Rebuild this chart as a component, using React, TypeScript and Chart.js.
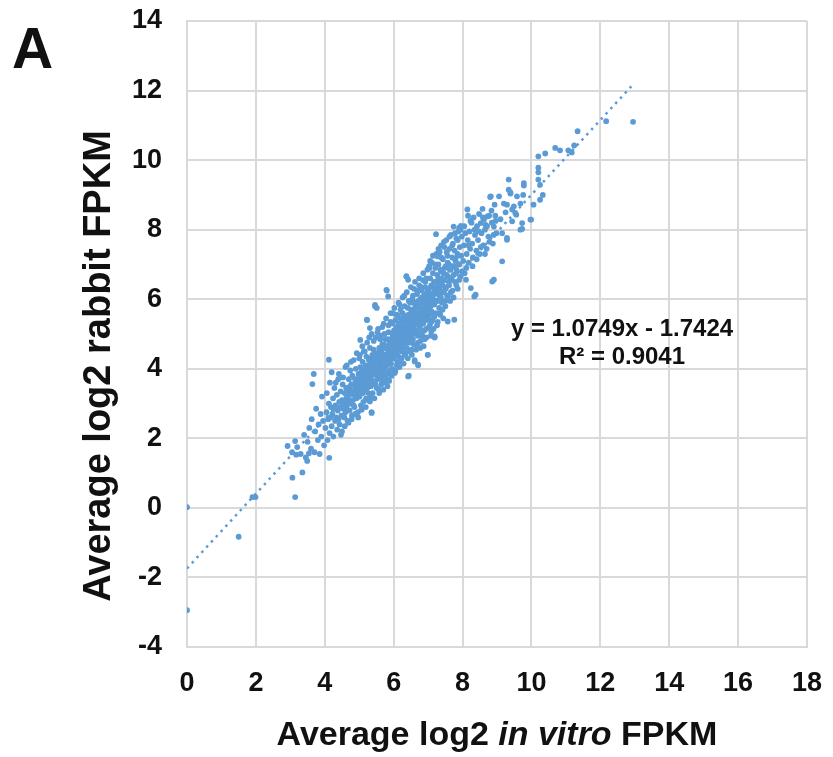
import React, { useEffect, useRef } from "react";
import { Chart, registerables } from "chart.js";
Chart.register(...registerables);

const X_MIN = 0, X_MAX = 18, Y_MIN = -4, Y_MAX = 14, TICK_STEP = 2;
const xAxisTitleParts = [
  { text: "Average log2 ", italic: false },
  { text: "in vitro", italic: true },
  { text: " FPKM", italic: false },
];
const yAxisTitle = "Average log2 rabbit FPKM";
const panelLabel = "A";
const equationLines = ["y = 1.0749x - 1.7424", "R\u00b2 = 0.9041"];

// trendline end points (x, y) as drawn in the picture
const trendX = [0, 12.9];
const trendY = [-1.74, 12.12];

// sparse points at the low end
const lowTailPoints = [
  [0, 0.02], [0, -2.94], [1.5, -0.83], [1.9, 0.31], [1.99, 0.31], [3.14, 0.31], [3.06, 0.87],
  [3.35, 1.02], [2.92, 1.78], [3.14, 1.92], [3.68, 3.85], [3.64, 3.56], [4.12, 4.26], [4.13, 1.44],
  [3.17, 1.53], [3.49, 1.35], [3.54, 1.57], [3.05, 1.6], [3.2, 1.75], [3.3, 1.55], [3.4, 2.1],
  [3.45, 1.45], [3.5, 1.9], [3.55, 2.3], [3.6, 1.7], [3.62, 2.55], [3.7, 1.6], [3.72, 2.2],
  [3.75, 2.85], [3.8, 1.95], [3.82, 2.4], [3.85, 1.55], [3.88, 2.7], [3.9, 2.05], [3.92, 3.2],
  [3.95, 2.5], [3.98, 1.8],
];

const band4to5 = [
  [4.02, 2.3], [4.05, 2.75], [4.06, 3.3], [4.08, 1.95], [4.1, 2.55], [4.12, 3.0], [4.14, 2.15],
  [4.15, 3.6], [4.17, 2.6], [4.18, 2.9], [4.2, 2.35], [4.2, 3.9], [4.22, 2.7], [4.24, 3.15],
  [4.25, 2.05], [4.27, 2.85], [4.28, 3.45], [4.3, 2.5], [4.31, 2.95], [4.33, 2.6], [4.35, 3.25],
  [4.36, 2.25], [4.38, 2.8], [4.39, 3.7], [4.4, 2.55], [4.42, 3.05], [4.43, 2.4], [4.45, 2.9],
  [4.46, 3.35], [4.48, 2.65], [4.5, 3.1], [4.5, 2.2], [4.52, 3.55], [4.54, 2.85], [4.55, 3.0],
  [4.57, 2.6], [4.58, 3.3], [4.6, 4.05], [4.6, 2.75], [4.62, 3.15], [4.63, 2.9], [4.65, 3.45],
  [4.66, 2.5], [4.68, 3.05], [4.7, 3.7], [4.71, 3.25], [4.72, 2.8], [4.74, 3.5], [4.75, 3.0],
  [4.76, 4.2], [4.78, 3.35], [4.79, 2.65], [4.8, 3.8], [4.82, 3.1], [4.83, 3.55], [4.85, 3.25],
  [4.86, 2.9], [4.88, 3.7], [4.89, 3.4], [4.9, 4.0], [4.92, 3.15], [4.93, 3.6], [4.95, 3.35],
  [4.96, 2.75], [4.98, 3.85], [4.99, 3.5], [5.0, 4.3],
];

const band5to6 = [
  [5.01, 3.2], [5.02, 3.65], [5.03, 4.05], [5.05, 3.45], [5.06, 3.9], [5.07, 2.85], [5.08, 3.55],
  [5.1, 4.2], [5.1, 3.75], [5.11, 3.3], [5.13, 4.5], [5.14, 3.6], [5.15, 3.95], [5.16, 3.4],
  [5.18, 4.1], [5.19, 3.7], [5.2, 3.15], [5.21, 4.35], [5.22, 3.85], [5.23, 5.4], [5.25, 3.6],
  [5.26, 4.0], [5.27, 3.3], [5.28, 4.25], [5.3, 3.75], [5.31, 4.6], [5.32, 3.95], [5.34, 3.5],
  [5.35, 4.15], [5.36, 2.75], [5.37, 3.85], [5.38, 4.4], [5.4, 3.65], [5.41, 4.05], [5.42, 4.8],
  [5.44, 3.9], [5.45, 4.25], [5.46, 5.8], [5.47, 3.55], [5.48, 4.0], [5.5, 4.45], [5.51, 3.8],
  [5.52, 4.15], [5.53, 5.05], [5.55, 3.95], [5.56, 4.35], [5.57, 3.4], [5.58, 4.6], [5.6, 4.1],
  [5.61, 3.85], [5.62, 4.5], [5.63, 4.95], [5.65, 4.25], [5.66, 3.7], [5.67, 4.7], [5.68, 4.05],
  [5.7, 4.4], [5.71, 5.3], [5.72, 3.95], [5.73, 4.6], [5.75, 4.2], [5.76, 3.6], [5.77, 4.85],
  [5.78, 4.35], [5.8, 6.25], [5.8, 4.1], [5.81, 4.65], [5.82, 3.85], [5.84, 4.5], [5.85, 5.05],
  [5.86, 4.25], [5.87, 3.65], [5.88, 4.8], [5.9, 4.4], [5.91, 5.35], [5.92, 4.15], [5.93, 4.65],
  [5.95, 4.0], [5.96, 4.9], [5.97, 4.45], [5.98, 5.6], [6.0, 4.3], [6.0, 4.75],
  [5.22, 5.41], [5.31, 5.17], [5.03, 4.83], [5.46, 5.84], [5.51, 5.75], [5.79, 6.27], [5.84, 6.08],
  [5.31, 3.06], [5.36, 2.73], [5.07, 2.82], [6.03, 3.88], [5.84, 3.68],
];

const band6to7 = [
  [6.01, 5.1], [6.02, 4.55], [6.03, 3.9], [6.04, 4.95], [6.05, 5.4], [6.06, 4.4], [6.07, 4.8],
  [6.08, 5.2], [6.09, 4.1], [6.1, 4.65], [6.11, 5.55], [6.12, 4.9], [6.13, 5.05], [6.14, 4.35],
  [6.15, 5.3], [6.16, 4.75], [6.17, 5.85], [6.18, 4.6], [6.19, 5.0], [6.2, 5.45], [6.21, 4.2],
  [6.22, 4.85], [6.23, 5.2], [6.25, 4.5], [6.26, 5.6], [6.27, 4.95], [6.28, 5.35], [6.29, 4.7],
  [6.3, 5.1], [6.31, 6.1], [6.32, 4.4], [6.33, 5.0], [6.34, 5.5], [6.35, 4.8], [6.36, 5.25],
  [6.37, 6.65], [6.38, 4.6], [6.39, 5.4], [6.4, 5.05], [6.41, 5.75], [6.42, 4.9], [6.43, 5.3],
  [6.44, 3.8], [6.45, 5.55], [6.46, 5.15], [6.47, 4.75], [6.48, 5.9], [6.49, 5.35], [6.5, 5.0],
  [6.51, 5.65], [6.52, 4.55], [6.53, 5.2], [6.54, 6.0], [6.55, 5.45], [6.56, 4.85], [6.57, 5.7],
  [6.58, 5.25], [6.59, 6.3], [6.6, 5.05], [6.61, 4.25], [6.62, 5.55], [6.63, 5.9], [6.64, 5.3],
  [6.65, 4.7], [6.66, 5.75], [6.67, 5.1], [6.68, 6.15], [6.69, 5.5], [6.7, 4.95], [6.71, 4.1],
  [6.72, 5.85], [6.73, 5.35], [6.74, 6.4], [6.75, 5.6], [6.76, 5.2], [6.77, 6.0], [6.78, 4.8],
  [6.79, 5.7], [6.8, 5.45], [6.81, 6.25], [6.82, 5.05], [6.83, 5.9], [6.84, 5.55], [6.85, 6.55],
  [6.86, 5.3], [6.87, 4.65], [6.88, 6.1], [6.89, 5.75], [6.9, 4.85], [6.91, 5.5], [6.92, 6.35],
  [6.93, 5.95], [6.94, 5.15], [6.95, 6.6], [6.96, 5.65], [6.97, 6.2], [6.98, 5.4], [6.99, 4.4],
  [7.0, 5.85], [6.37, 6.66], [6.42, 6.56], [6.9, 4.88], [6.99, 4.4], [6.61, 4.21], [6.71, 4.12],
  [6.42, 3.78], [7.09, 5.07], [7.19, 4.93],
];

const band7to8 = [
  [7.01, 6.3], [7.02, 5.5], [7.03, 6.95], [7.04, 6.05], [7.05, 5.25], [7.06, 6.6], [7.07, 5.8],
  [7.08, 4.95], [7.09, 6.4], [7.1, 5.65], [7.11, 7.05], [7.12, 6.15], [7.13, 5.4], [7.14, 6.75],
  [7.15, 6.0], [7.16, 5.15], [7.17, 6.5], [7.18, 5.85], [7.19, 4.9], [7.2, 6.25], [7.21, 6.9],
  [7.22, 5.6], [7.24, 7.3], [7.25, 6.35], [7.26, 5.95], [7.27, 6.7], [7.28, 5.35], [7.29, 6.15],
  [7.3, 7.0], [7.31, 6.45], [7.32, 5.75], [7.33, 7.35], [7.34, 6.3], [7.35, 5.55], [7.36, 6.85],
  [7.37, 6.05], [7.38, 7.55], [7.39, 6.6], [7.4, 5.9], [7.42, 6.4], [7.43, 7.15], [7.44, 5.45],
  [7.45, 6.75], [7.46, 6.2], [7.47, 7.5], [7.48, 6.55], [7.5, 5.8], [7.51, 6.95], [7.52, 6.35],
  [7.53, 7.7], [7.55, 6.1], [7.56, 7.25], [7.57, 5.36], [7.58, 6.65], [7.6, 7.0], [7.61, 6.4],
  [7.62, 7.45], [7.64, 5.95], [7.65, 6.85], [7.66, 7.85], [7.68, 6.6], [7.7, 7.2], [7.71, 6.25],
  [7.72, 7.6], [7.74, 8.09], [7.75, 6.95], [7.76, 5.41], [7.77, 7.4], [7.78, 6.5], [7.8, 7.1],
  [7.82, 7.75], [7.83, 6.8], [7.85, 7.3], [7.86, 6.3], [7.88, 7.95], [7.9, 8.05], [7.9, 7.0],
  [7.92, 7.5], [7.94, 6.65], [7.95, 8.11], [7.96, 7.25], [7.98, 7.8], [7.23, 7.87], [7.33, 7.38],
  [7.28, 7.23], [7.09, 7.04], [7.04, 6.9],
];

const band8to9 = [
  [8.02, 7.1], [8.04, 7.55], [8.06, 6.75], [8.08, 7.9], [8.1, 6.56], [8.12, 7.3], [8.14, 8.58],
  [8.15, 7.7], [8.16, 8.4], [8.18, 7.05], [8.2, 7.95], [8.22, 7.45], [8.24, 6.32], [8.26, 8.2],
  [8.28, 7.6], [8.3, 7.2], [8.32, 8.35], [8.34, 6.08], [8.36, 7.85], [8.38, 6.13], [8.4, 7.4],
  [8.42, 8.1], [8.45, 7.7], [8.48, 8.45], [8.5, 7.3], [8.53, 8.19], [8.55, 7.9], [8.58, 8.6],
  [8.6, 7.55], [8.62, 8.29], [8.65, 8.0], [8.67, 8.14], [8.7, 7.45], [8.72, 8.38], [8.75, 7.8],
  [8.77, 8.4], [8.8, 8.94], [8.82, 8.96], [8.85, 8.2], [8.86, 6.51], [8.88, 7.6], [8.91, 6.56],
  [8.91, 8.09], [8.93, 8.72], [8.95, 8.4], [8.98, 7.9],
];

const upperTailPoints = [
  [9.06, 8.96], [9.1, 8.3], [9.15, 7.9], [9.15, 7.09], [9.2, 8.75], [9.25, 8.5], [9.29, 7.76],
  [9.29, 7.71], [9.29, 8.72], [9.34, 9.44], [9.34, 9.15], [9.39, 9.07], [9.39, 9.04], [9.44, 8.58],
  [9.44, 8.24], [9.49, 8.67], [9.53, 8.48], [9.56, 8.43], [9.58, 8.96], [9.68, 8.75], [9.68, 8.0],
  [9.73, 8.19], [9.73, 8.02], [9.76, 9.0], [9.78, 9.34], [9.78, 9.27], [9.97, 8.29], [9.99, 8.29],
  [10.06, 8.72], [10.2, 10.11], [10.2, 9.78], [10.2, 9.65], [10.2, 9.44], [10.25, 9.29],
  [10.25, 8.86], [10.33, 9.0], [10.4, 10.19], [10.69, 10.35], [10.83, 10.28], [11.07, 10.28],
  [11.17, 10.22], [11.24, 10.42], [11.34, 10.83], [12.17, 11.12], [12.95, 11.1],
];

const denseCorePoints = [
  [4.62, 3.45], [4.66, 3.0], [4.7, 3.35], [4.73, 3.1], [4.77, 3.55], [4.81, 3.3], [4.84, 2.95],
  [4.87, 3.5], [4.9, 3.25], [4.94, 3.7], [4.97, 3.2], [5.0, 3.55], [5.04, 3.8], [5.07, 3.35],
  [5.09, 3.6], [5.12, 3.9], [5.15, 3.5], [5.17, 3.75], [5.2, 4.0], [5.23, 3.45], [5.24, 3.8],
  [5.27, 4.1], [5.29, 3.55], [5.3, 3.95], [5.33, 4.3], [5.35, 3.7], [5.38, 4.05], [5.4, 3.85],
  [5.43, 4.2], [5.45, 3.6], [5.47, 4.35], [5.5, 3.95], [5.52, 4.25], [5.54, 3.7], [5.57, 4.45],
  [5.59, 4.0], [5.6, 4.3], [5.63, 4.15], [5.66, 4.55], [5.68, 3.85], [5.7, 4.25], [5.72, 4.7],
  [5.74, 4.05], [5.77, 4.4], [5.79, 4.6], [5.81, 4.2], [5.83, 4.85], [5.86, 4.45], [5.88, 4.15],
  [5.9, 4.7], [5.93, 4.3], [5.95, 4.55], [5.97, 5.0], [6.0, 4.5], [6.02, 4.85], [6.04, 4.6],
  [6.06, 5.1], [6.08, 4.75], [6.1, 4.45], [6.12, 5.2], [6.14, 4.85], [6.16, 4.55], [6.18, 5.05],
  [6.2, 4.8], [6.22, 5.35], [6.24, 4.95], [6.26, 4.65], [6.28, 5.15], [6.3, 4.9], [6.32, 5.45],
  [6.34, 5.1], [6.36, 4.75], [6.38, 5.3], [6.4, 4.95], [6.42, 5.55], [6.44, 5.2], [6.46, 4.9],
  [6.48, 5.4], [6.5, 5.15], [6.52, 5.7], [6.54, 5.3], [6.56, 5.0], [6.58, 5.55], [6.6, 5.25],
  [6.62, 5.85], [6.64, 5.45], [6.66, 5.1], [6.68, 5.6], [6.7, 5.35], [6.72, 5.95], [6.74, 5.55],
  [6.76, 5.25], [6.78, 5.75], [6.8, 5.5], [6.82, 6.05], [6.84, 5.7], [6.86, 5.4], [6.88, 5.9],
  [6.9, 5.6], [6.92, 6.15], [6.94, 5.8], [6.96, 5.5], [6.98, 6.05], [7.0, 5.7], [7.03, 6.2],
  [7.06, 5.95], [7.09, 5.6], [7.12, 6.35], [7.15, 5.85], [7.18, 6.15], [7.21, 6.5], [7.24, 5.95],
  [7.27, 6.3], [7.3, 6.6], [7.33, 6.1], [7.36, 6.45], [7.39, 6.8], [7.42, 6.2], [7.45, 6.55],
  [7.48, 6.9], [7.51, 6.3], [7.54, 6.7], [7.57, 7.05], [7.6, 6.5], [7.63, 6.85], [7.66, 6.55],
  [7.7, 6.95], [7.74, 6.7], [7.78, 7.15], [7.82, 6.85], [7.86, 7.25], [7.9, 7.0],
];

const outerSpreadPoints = [
  [4.32, 3.6], [4.41, 3.85], [4.47, 2.1], [4.53, 3.75], [4.58, 2.35], [4.64, 4.1], [4.69, 2.45],
  [4.74, 3.95], [4.78, 2.55], [4.84, 4.25], [4.88, 2.7], [4.93, 4.45], [4.97, 2.6],
  [5.02, 4.4], [5.05, 2.95], [5.09, 4.65], [5.12, 3.05], [5.16, 4.5], [5.19, 2.9], [5.23, 4.75],
  [5.26, 3.1], [5.29, 4.9], [5.33, 3.2], [5.36, 5.0], [5.39, 3.3], [5.42, 4.55], [5.44, 3.15],
  [5.48, 4.9], [5.51, 3.45], [5.55, 5.15], [5.58, 3.3], [5.61, 4.85], [5.64, 3.55], [5.67, 5.2],
  [5.7, 3.4], [5.73, 5.0], [5.76, 3.75], [5.78, 5.45], [5.82, 3.5], [5.85, 5.25], [5.88, 3.95],
  [5.91, 5.6], [5.94, 3.8], [5.97, 5.3],
  [6.02, 5.75], [6.05, 3.95], [6.08, 5.55], [6.11, 4.2], [6.14, 5.9], [6.17, 4.05], [6.2, 5.7],
  [6.23, 4.3], [6.26, 6.05], [6.29, 4.15], [6.32, 5.8], [6.35, 4.45], [6.38, 6.2], [6.41, 4.3],
  [6.44, 5.95], [6.47, 4.5], [6.5, 6.35], [6.53, 4.4], [6.56, 6.1], [6.59, 4.7], [6.62, 6.5],
  [6.65, 4.55], [6.68, 6.25], [6.71, 4.75], [6.74, 6.6], [6.77, 4.6], [6.8, 6.35], [6.83, 4.95],
  [6.86, 6.75], [6.89, 5.1], [6.92, 6.5], [6.95, 4.9], [6.98, 6.85],
  [7.02, 5.2], [7.06, 7.1], [7.1, 5.35], [7.14, 7.25], [7.18, 5.5], [7.22, 7.0], [7.26, 5.25],
  [7.3, 7.45], [7.34, 5.6], [7.38, 7.2], [7.42, 5.7], [7.46, 7.65], [7.5, 5.95], [7.54, 7.35],
  [7.58, 6.1], [7.62, 7.8], [7.66, 6.2], [7.7, 7.55], [7.74, 6.05], [7.78, 7.9], [7.82, 6.4],
  [7.86, 7.7], [7.9, 6.55], [7.94, 8.0], [7.98, 6.8],
  [8.05, 8.1], [8.11, 6.9], [8.17, 7.55], [8.23, 8.25], [8.29, 6.95], [8.35, 8.0], [8.41, 7.15],
  [8.47, 7.95], [8.53, 7.5], [8.59, 8.35], [8.65, 7.3], [8.71, 8.1], [8.78, 7.65], [8.84, 8.55],
  [8.9, 7.85], [8.96, 8.25],
];

const MARKER_COLOR = "#5B9BD5";
const GRID_COLOR = "#d9d9d9";
const TEXT_COLOR = "#111111";
const FONT = "'Liberation Sans', Arial, sans-serif";

const textPlugin = {
  id: "extraText",
  afterDraw(chart: any) {
    const ctx = chart.ctx;
    const area = chart.chartArea;
    ctx.save();
    ctx.fillStyle = TEXT_COLOR;
    // panel label
    ctx.font = `bold 57px ${FONT}`;
    ctx.textAlign = "left";
    ctx.textBaseline = "alphabetic";
    ctx.fillText(panelLabel, 12, 68);
    // y title
    ctx.save();
    ctx.font = `bold 38px ${FONT}`;
    ctx.translate(110, 366);
    ctx.rotate(-Math.PI / 2);
    ctx.textAlign = "center";
    ctx.fillText(yAxisTitle, 0, 0);
    ctx.restore();
    // x title with italic part
    const widths = xAxisTitleParts.map((p) => {
      ctx.font = `${p.italic ? "italic " : ""}bold 34px ${FONT}`;
      return ctx.measureText(p.text).width;
    });
    const total = widths.reduce((a: number, b: number) => a + b, 0);
    let cx = (area.left + area.right) / 2 - total / 2;
    ctx.textAlign = "left";
    xAxisTitleParts.forEach((p, i) => {
      ctx.font = `${p.italic ? "italic " : ""}bold 34px ${FONT}`;
      ctx.fillText(p.text, cx, 745);
      cx += widths[i];
    });
    // regression equation
    ctx.font = `bold 24px ${FONT}`;
    ctx.textAlign = "center";
    ctx.textBaseline = "middle";
    ctx.fillText(equationLines[0], 622, 329);
    ctx.fillText(equationLines[1], 622, 357);
    ctx.restore();
  },
};

export default function App() {
  const ref = useRef<HTMLCanvasElement | null>(null);
  useEffect(() => {
    if (!ref.current) return;
    const all = [
      ...lowTailPoints, ...band4to5, ...band5to6, ...band6to7, ...band7to8,
      ...band8to9, ...upperTailPoints, ...denseCorePoints, ...outerSpreadPoints,
    ].map(([x, y]) => ({ x, y }));
    const trend = trendX.map((x, i) => ({ x, y: trendY[i] }));
    const chart = new Chart(ref.current, {
      type: "scatter",
      data: {
        datasets: [
          {
            type: "line",
            data: trend,
            borderColor: MARKER_COLOR,
            borderWidth: 2.5,
            borderDash: [2.5, 4.6],
            pointRadius: 0,
            fill: false,
            order: 0,
          } as any,
          {
            data: all,
            backgroundColor: MARKER_COLOR,
            borderWidth: 0,
            pointRadius: 2.9,
            order: 1,
          },
        ],
      },
      options: {
        responsive: false,
        animation: false,
        devicePixelRatio: 1,
        layout: { padding: { top: 21, right: 26, left: 0, bottom: 0 } },
        plugins: { legend: { display: false }, tooltip: { enabled: false } },
        scales: {
          x: {
            type: "linear",
            min: X_MIN,
            max: X_MAX,
            afterFit: (s: any) => {
              s.height = 110;
              s.paddingLeft = 0;
              s.paddingRight = 0;
              s.paddingTop = 0;
              s.paddingBottom = 0;
            },
            ticks: {
              stepSize: TICK_STEP,
              color: TEXT_COLOR,
              font: { family: FONT, size: 27, weight: "bold" },
              padding: 20,
              maxRotation: 0,
            },
            grid: { color: GRID_COLOR, lineWidth: 2, drawTicks: false },
            border: { display: true, color: GRID_COLOR, width: 2 },
          },
          y: {
            type: "linear",
            min: Y_MIN,
            max: Y_MAX,
            afterFit: (s: any) => {
              s.width = 187;
              s.paddingTop = 0;
              s.paddingBottom = 0;
              s.paddingLeft = 0;
              s.paddingRight = 0;
            },
            ticks: {
              stepSize: TICK_STEP,
              color: TEXT_COLOR,
              font: { family: FONT, size: 27, weight: "bold" },
              padding: 25,
            },
            grid: { color: GRID_COLOR, lineWidth: 2, drawTicks: false },
            border: { display: true, color: GRID_COLOR, width: 2 },
          },
        },
      },
      plugins: [textPlugin],
    });
    return () => chart.destroy();
  }, []);
  return (
    <div style={{ position: "absolute", left: 0, top: 0, width: 833, height: 757, background: "#fff" }}>
      <canvas ref={ref} width={833} height={757} style={{ width: 833, height: 757, display: "block" }} />
    </div>
  );
}
